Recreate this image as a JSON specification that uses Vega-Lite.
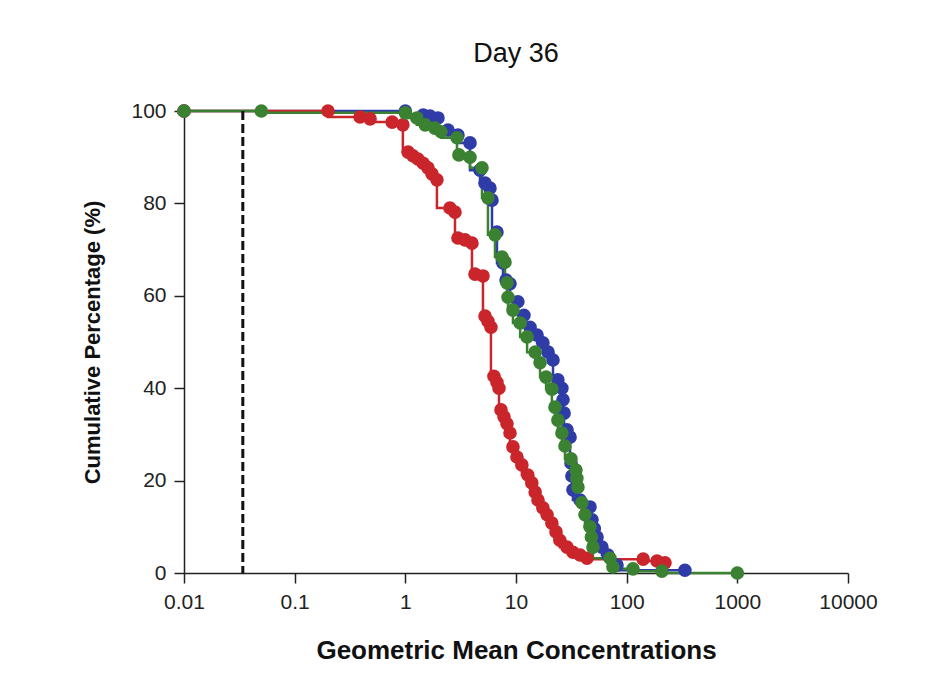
{
  "$schema": "https://vega.github.io/schema/vega-lite/v6.json",
  "width": 664,
  "height": 462,
  "autosize": {"type": "none"},
  "padding": {"left": 184, "top": 111, "right": 97, "bottom": 117},
  "background": "white",
  "config": {
    "view": {"stroke": null},
    "font": "Liberation Sans",
    "axis": {
      "domainColor": "#222",
      "domainWidth": 1.5,
      "tickColor": "#222",
      "tickWidth": 1.5,
      "tickSize": 10,
      "labelFontSize": 21,
      "labelColor": "#222",
      "labelPadding": 8,
      "labelFont": "Liberation Sans",
      "titleFont": "Liberation Sans",
      "titleFontWeight": "bold",
      "titleColor": "#111",
      "grid": false,
      "labelFlush": false,
      "labelOverlap": false
    }
  },
  "title": {"text": "Day 36", "fontSize": 27, "fontWeight": "normal", "color": "#111", "offset": 32, "anchor": "middle", "font": "Liberation Sans"},
  "datasets": {
    "curves": [
      {"series": "A", "conc": 0.01, "pct": 100},
      {"series": "A", "conc": 1.0, "pct": 100},
      {"series": "A", "conc": 1.45, "pct": 99.1},
      {"series": "A", "conc": 1.67, "pct": 98.9},
      {"series": "A", "conc": 1.97, "pct": 98.5},
      {"series": "A", "conc": 2.43, "pct": 95.9},
      {"series": "A", "conc": 2.99, "pct": 94.8},
      {"series": "A", "conc": 3.84, "pct": 93.1},
      {"series": "A", "conc": 4.73, "pct": 87.2},
      {"series": "A", "conc": 5.25, "pct": 84.4},
      {"series": "A", "conc": 5.82, "pct": 83.3},
      {"series": "A", "conc": 6.07, "pct": 80.7},
      {"series": "A", "conc": 6.73, "pct": 73.8},
      {"series": "A", "conc": 7.63, "pct": 67.1},
      {"series": "A", "conc": 8.13, "pct": 63.4},
      {"series": "A", "conc": 8.83, "pct": 62.6},
      {"series": "A", "conc": 10.4, "pct": 58.7},
      {"series": "A", "conc": 11.8, "pct": 55.8},
      {"series": "A", "conc": 13.4, "pct": 53.2},
      {"series": "A", "conc": 15.5, "pct": 51.5},
      {"series": "A", "conc": 17.5, "pct": 49.8},
      {"series": "A", "conc": 19.5, "pct": 47.8},
      {"series": "A", "conc": 21.6, "pct": 46.1},
      {"series": "A", "conc": 23.9, "pct": 41.8},
      {"series": "A", "conc": 26.0, "pct": 40.0},
      {"series": "A", "conc": 26.6, "pct": 37.5},
      {"series": "A", "conc": 27.2, "pct": 34.6},
      {"series": "A", "conc": 28.9, "pct": 31.0},
      {"series": "A", "conc": 30.8, "pct": 29.4},
      {"series": "A", "conc": 31.4, "pct": 23.8},
      {"series": "A", "conc": 32.0, "pct": 21.0},
      {"series": "A", "conc": 32.7, "pct": 18.0},
      {"series": "A", "conc": 37.9, "pct": 15.8},
      {"series": "A", "conc": 46.6, "pct": 14.3},
      {"series": "A", "conc": 48.6, "pct": 11.5},
      {"series": "A", "conc": 51.0, "pct": 9.6},
      {"series": "A", "conc": 54.0, "pct": 7.8},
      {"series": "A", "conc": 59.8, "pct": 5.6},
      {"series": "A", "conc": 67.8, "pct": 3.9},
      {"series": "A", "conc": 81.8, "pct": 1.7},
      {"series": "A", "conc": 336, "pct": 0.6},
      {"series": "B", "conc": 0.01, "pct": 100},
      {"series": "B", "conc": 0.2, "pct": 100},
      {"series": "B", "conc": 0.39, "pct": 98.7},
      {"series": "B", "conc": 0.48, "pct": 98.3},
      {"series": "B", "conc": 0.76, "pct": 97.6},
      {"series": "B", "conc": 0.95, "pct": 97.0},
      {"series": "B", "conc": 1.06, "pct": 91.1},
      {"series": "B", "conc": 1.17, "pct": 90.3},
      {"series": "B", "conc": 1.3, "pct": 89.6},
      {"series": "B", "conc": 1.45, "pct": 88.7},
      {"series": "B", "conc": 1.6, "pct": 87.7},
      {"series": "B", "conc": 1.74, "pct": 86.4},
      {"series": "B", "conc": 1.93, "pct": 85.1},
      {"series": "B", "conc": 2.53, "pct": 79.0},
      {"series": "B", "conc": 2.81, "pct": 78.1},
      {"series": "B", "conc": 2.99, "pct": 72.5},
      {"series": "B", "conc": 3.46, "pct": 72.1},
      {"series": "B", "conc": 4.0, "pct": 71.4},
      {"series": "B", "conc": 4.26, "pct": 64.7},
      {"series": "B", "conc": 5.03, "pct": 64.3},
      {"series": "B", "conc": 5.25, "pct": 55.6},
      {"series": "B", "conc": 5.58, "pct": 54.5},
      {"series": "B", "conc": 5.94, "pct": 53.2},
      {"series": "B", "conc": 6.32, "pct": 42.6},
      {"series": "B", "conc": 6.73, "pct": 41.3},
      {"series": "B", "conc": 7.02, "pct": 40.0},
      {"series": "B", "conc": 7.32, "pct": 35.3},
      {"series": "B", "conc": 7.79, "pct": 33.8},
      {"series": "B", "conc": 8.29, "pct": 32.3},
      {"series": "B", "conc": 8.83, "pct": 30.3},
      {"series": "B", "conc": 9.39, "pct": 27.3},
      {"series": "B", "conc": 10.2, "pct": 25.1},
      {"series": "B", "conc": 11.3, "pct": 23.4},
      {"series": "B", "conc": 12.8, "pct": 21.2},
      {"series": "B", "conc": 13.9, "pct": 19.5},
      {"series": "B", "conc": 14.9, "pct": 17.5},
      {"series": "B", "conc": 15.8, "pct": 15.8},
      {"series": "B", "conc": 17.5, "pct": 14.1},
      {"series": "B", "conc": 19.1, "pct": 12.6},
      {"series": "B", "conc": 21.1, "pct": 10.8},
      {"series": "B", "conc": 23.0, "pct": 8.9},
      {"series": "B", "conc": 24.9, "pct": 7.1},
      {"series": "B", "conc": 28.9, "pct": 5.6},
      {"series": "B", "conc": 32.7, "pct": 4.5},
      {"series": "B", "conc": 37.9, "pct": 3.9},
      {"series": "B", "conc": 43.8, "pct": 3.2},
      {"series": "B", "conc": 141, "pct": 3.0},
      {"series": "B", "conc": 188, "pct": 2.6},
      {"series": "B", "conc": 222, "pct": 2.2},
      {"series": "C", "conc": 0.01, "pct": 100},
      {"series": "C", "conc": 0.05, "pct": 100},
      {"series": "C", "conc": 1.0, "pct": 99.6},
      {"series": "C", "conc": 1.27, "pct": 98.5},
      {"series": "C", "conc": 1.51, "pct": 97.0},
      {"series": "C", "conc": 1.85, "pct": 96.3},
      {"series": "C", "conc": 2.1, "pct": 95.5},
      {"series": "C", "conc": 2.93, "pct": 94.2},
      {"series": "C", "conc": 3.05, "pct": 90.5},
      {"series": "C", "conc": 3.84, "pct": 90.0},
      {"series": "C", "conc": 4.93, "pct": 87.7},
      {"series": "C", "conc": 5.58, "pct": 81.2},
      {"series": "C", "conc": 6.46, "pct": 73.2},
      {"series": "C", "conc": 7.47, "pct": 68.4},
      {"series": "C", "conc": 7.96, "pct": 67.3},
      {"series": "C", "conc": 8.29, "pct": 62.8},
      {"series": "C", "conc": 8.47, "pct": 59.7},
      {"series": "C", "conc": 9.39, "pct": 56.9},
      {"series": "C", "conc": 10.9, "pct": 54.1},
      {"series": "C", "conc": 12.6, "pct": 51.1},
      {"series": "C", "conc": 14.9, "pct": 47.8},
      {"series": "C", "conc": 16.5, "pct": 45.5},
      {"series": "C", "conc": 18.7, "pct": 42.4},
      {"series": "C", "conc": 21.1, "pct": 39.8},
      {"series": "C", "conc": 22.5, "pct": 35.9},
      {"series": "C", "conc": 23.9, "pct": 33.1},
      {"series": "C", "conc": 26.0, "pct": 30.3},
      {"series": "C", "conc": 27.7, "pct": 27.5},
      {"series": "C", "conc": 31.4, "pct": 24.7},
      {"series": "C", "conc": 34.8, "pct": 22.3},
      {"series": "C", "conc": 35.5, "pct": 20.5},
      {"series": "C", "conc": 36.3, "pct": 18.6},
      {"series": "C", "conc": 39.4, "pct": 15.2},
      {"series": "C", "conc": 42.0, "pct": 12.6},
      {"series": "C", "conc": 46.6, "pct": 10.0},
      {"series": "C", "conc": 48.0, "pct": 7.8},
      {"series": "C", "conc": 49.6, "pct": 5.6},
      {"series": "C", "conc": 70.7, "pct": 3.2},
      {"series": "C", "conc": 75.2, "pct": 1.3},
      {"series": "C", "conc": 114, "pct": 0.9},
      {"series": "C", "conc": 208, "pct": 0.4},
      {"series": "C", "conc": 1000, "pct": 0}
    ],
    "lloq": [{"conc": 0.034}]
  },
  "layer": [
    {
      "data": {"name": "curves"},
      "mark": {"type": "line", "interpolate": "step-before", "strokeWidth": 2.5},
      "encoding": {
        "x": {
          "field": "conc",
          "type": "quantitative",
          "scale": {"type": "log", "domain": [0.01, 10000], "nice": false},
          "axis": {"title": "Geometric Mean Concentrations", "values": [0.01, 0.1, 1, 10, 100, 1000, 10000], "format": "~g", "titleFontSize": 26, "titlePadding": 25}
        },
        "y": {
          "field": "pct",
          "type": "quantitative",
          "scale": {"domain": [0, 100], "nice": false},
          "axis": {"title": "Cumulative Percentage (%)", "values": [0, 20, 40, 60, 80, 100], "titleFontSize": 22, "titlePadding": 26}
        },
        "color": {
          "field": "series",
          "type": "nominal",
          "scale": {"domain": ["A", "B", "C"], "range": ["#2f3ca8", "#c9252b", "#3b8132"]},
          "legend": null
        }
      }
    },
    {
      "data": {"name": "curves"},
      "mark": {"type": "point", "filled": true, "size": 185, "opacity": 1},
      "encoding": {
        "x": {"field": "conc", "type": "quantitative"},
        "y": {"field": "pct", "type": "quantitative"},
        "color": {"field": "series", "type": "nominal", "legend": null}
      }
    },
    {
      "data": {"name": "lloq"},
      "mark": {"type": "rule", "strokeDash": [9, 4], "strokeWidth": 3, "color": "#111"},
      "encoding": {"x": {"field": "conc", "type": "quantitative"}}
    }
  ]
}
